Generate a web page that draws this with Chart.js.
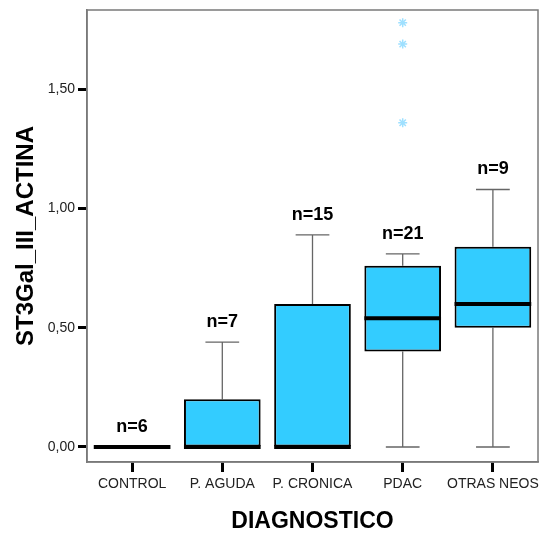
<!DOCTYPE html>
<html><head><meta charset="utf-8">
<script src="https://cdn.jsdelivr.net/npm/chart.js@4.4.1/dist/chart.umd.min.js"></script>
<style>html,body{margin:0;padding:0;background:#fff}</style>
</head><body>
<canvas id="c" width="539" height="533"></canvas>
<script>
const categories = ['CONTROL', 'P. AGUDA', 'P. CRONICA', 'PDAC', 'OTRAS NEOS'];
const mins    = [0, 0, 0, 0, 0];
const q1s     = [0, 0, 0, 0.40, 0.50];
const medians = [0, 0, 0, 0.54, 0.60];
const q3s     = [0, 0.20, 0.60, 0.76, 0.84];
const maxs    = [0, 0.44, 0.89, 0.81, 1.08];
const counts  = [6, 7, 15, 21, 9];
const outlierCategories = ['PDAC', 'PDAC', 'PDAC'];
const outlierValues     = [1.78, 1.69, 1.36];
const yTicks = [0, 0.5, 1.0, 1.5];

const FONT = 'Liberation Sans, Arial, sans-serif';

const boxPlugin = {
  id: 'boxExtras',
  beforeDatasetsDraw(chart) {
    const {ctx, scales: {x, y}} = chart;
    const meta = chart.getDatasetMeta(0);
    ctx.save();
    ctx.strokeStyle = '#666';
    ctx.lineWidth = 1.3;
    categories.forEach((c, i) => {
      const cx = x.getPixelForValue(i);
      const capHalf = meta.data[i].width * 0.22;
      const segs = [[q3s[i], maxs[i]], [q1s[i], mins[i]]];
      segs.forEach(([a, b]) => {
        if (a === b) return;
        const pa = y.getPixelForValue(a), pb = y.getPixelForValue(b);
        ctx.beginPath();
        ctx.moveTo(cx, pa); ctx.lineTo(cx, pb);
        ctx.moveTo(cx - capHalf, pb); ctx.lineTo(cx + capHalf, pb);
        ctx.stroke();
      });
    });
    ctx.restore();
  },
  afterDatasetsDraw(chart) {
    const {ctx, scales: {x, y}} = chart;
    const meta = chart.getDatasetMeta(0);
    ctx.save();
    categories.forEach((c, i) => {
      const cx = x.getPixelForValue(i);
      const hw = meta.data[i].width / 2;
      const pm = y.getPixelForValue(medians[i]);
      ctx.strokeStyle = '#000';
      ctx.lineWidth = 4;
      ctx.beginPath();
      ctx.moveTo(cx - hw, pm); ctx.lineTo(cx + hw, pm);
      ctx.stroke();
      ctx.fillStyle = '#000';
      ctx.font = 'bold 18px ' + FONT;
      ctx.textAlign = 'center';
      ctx.textBaseline = 'middle';
      ctx.fillText('n=' + counts[i], cx, y.getPixelForValue(maxs[i]) - 20);
    });
    ctx.restore();
  },
  afterDraw(chart) {
    const {ctx, chartArea: a} = chart;
    ctx.save();
    ctx.strokeStyle = '#7a7a7a';
    ctx.lineWidth = 1.5;
    ctx.strokeRect(a.left, a.top, a.right - a.left, a.bottom - a.top);
    ctx.restore();
  }
};

new Chart(document.getElementById('c'), {
  type: 'bar',
  data: {
    labels: categories,
    datasets: [
      {
        data: categories.map((c, i) => [q1s[i], q3s[i]]),
        backgroundColor: '#33ccff',
        borderColor: '#000',
        borderWidth: 2,
        borderSkipped: false,
        categoryPercentage: 1,
        barPercentage: 0.85
      },
      {
        type: 'line',
        showLine: false,
        data: outlierValues.map((v, i) => ({x: outlierCategories[i], y: v})),
        pointStyle: 'star',
        radius: 4.5,
        borderColor: '#9fe0ff',
        backgroundColor: '#9fe0ff',
        borderWidth: 1.5
      }
    ]
  },
  options: {
    responsive: false,
    animation: false,
    devicePixelRatio: 1,
    layout: {autoPadding: false, padding: {top: 10, right: 1, left: 0, bottom: 0}},
    plugins: {legend: {display: false}, tooltip: {enabled: false}},
    scales: {
      x: {
        type: 'category',
        offset: true,
        grid: {offset: false, drawOnChartArea: false, drawTicks: true, tickLength: 10, tickWidth: 3, tickColor: '#000'},
        border: {display: true, color: '#7a7a7a', width: 1.5},
        ticks: {font: {family: FONT, size: 14}, color: '#222', padding: 4, maxRotation: 0, autoSkip: false},
        title: {display: true, text: 'DIAGNOSTICO', color: '#000', font: {family: FONT, size: 23, weight: 'bold', lineHeight: 1}, padding: {top: 0, bottom: 0}},
        afterFit: s => { s.height = 71; s.paddingLeft = 0; s.paddingRight = 0; }
      },
      y: {
        min: -0.063,
        max: 1.833,
        afterBuildTicks: s => { s.ticks = yTicks.map(v => ({value: v})); },
        grid: {drawOnChartArea: false, drawTicks: true, tickLength: 9, tickWidth: 3, tickColor: '#000'},
        border: {display: true, color: '#7a7a7a', width: 1.5},
        ticks: {font: {family: FONT, size: 14}, color: '#222', padding: 3, callback: v => v.toFixed(2).replace('.', ',')},
        title: {display: true, text: 'ST3Gal_III_ACTINA', color: '#000', font: {family: FONT, size: 24, weight: 'bold', lineHeight: 1}, padding: {top: 14, bottom: 0}},
        afterFit: s => { s.width = 87; s.paddingTop = 0; s.paddingBottom = 0; }
      }
    }
  },
  plugins: [boxPlugin]
});
</script>
</body></html>
